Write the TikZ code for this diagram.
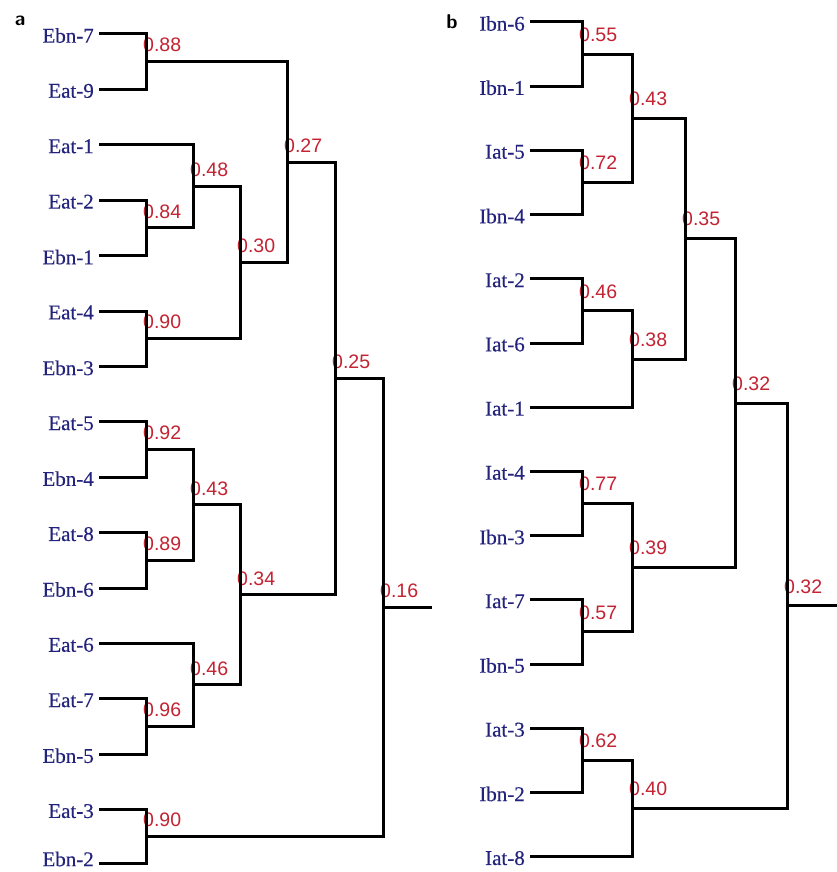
\documentclass[tikz,border=0pt]{standalone}
\usepackage{fontspec}
\setmainfont{Liberation Serif}
\newfontfamily\leaffont[FakeBold=0.3]{Liberation Serif}
\newfontfamily\valfont{Liberation Sans}
\definecolor{leafblue}{RGB}{35,35,125}
\definecolor{valred}{RGB}{195,35,50}
\begin{document}
\begin{tikzpicture}[x=1pt,y=-1pt,
  leaf/.style={anchor=east,inner sep=0pt,text=leafblue,font=\leaffont\fontsize{21}{21}\selectfont},
  val/.style={anchor=west,inner sep=0pt,text=valred,font=\valfont\fontsize{19.5}{20}\selectfont},
  br/.style={line width=3pt,line join=miter,draw=black},
  panel/.style={inner sep=0pt,font=\sffamily\bfseries\fontsize{20}{20}\selectfont}]
\useasboundingbox (0,0) rectangle (837,872);
\fill[white] (0,0) rectangle (837,872);
% panel letters
\node[panel] (pa) at (20,21) {a};
\node[panel] (pb) at (452,22) {b};
% ---------- panel a leaves ----------
\foreach \n/\t/\y in {0/Ebn-7/34,1/Eat-9/89.4,2/Eat-1/144.8,3/Eat-2/200.2,4/Ebn-1/255.6,5/Eat-4/311,6/Ebn-3/366.4,7/Eat-5/421.8,8/Ebn-4/477.2,9/Eat-8/532.6,10/Ebn-6/588,11/Eat-6/643.4,12/Eat-7/698.8,13/Ebn-5/754.2,14/Eat-3/809.6}{
  \node[leaf] (aT\n) at (94,\y+1.5) {\t};
  \coordinate (aL\n) at (99,\y);
}
\node[leaf] (aT15) at (94,859) {Ebn-2};
\coordinate (aL15) at (99,863);
% internal coordinates a
\coordinate (a88) at (146,61.7);
\coordinate (a84) at (146,227.9);
\coordinate (a48) at (193,186.35);
\coordinate (a90a) at (146,338.7);
\coordinate (a30) at (240,262.5);
\coordinate (a27) at (287,162.1);
\coordinate (a92) at (146,449.5);
\coordinate (a89) at (146,560.3);
\coordinate (a43) at (193,504.9);
\coordinate (a96) at (146,726.5);
\coordinate (a46) at (193,684.95);
\coordinate (a34) at (240,594.9);
\coordinate (a25) at (335,378.5);
\coordinate (a90b) at (146,836.3);
\coordinate (a16) at (383,607.4);
\coordinate (aR) at (432,607.4);
% labels a
\foreach \c/\v in {a88/0.88,a84/0.84,a48/0.48,a90a/0.90,a30/0.30,a27/0.27,a92/0.92,a89/0.89,a43/0.43,a96/0.96,a46/0.46,a34/0.34,a25/0.25,a90b/0.90,a16/0.16}{
  \node[val] (v\c) at ([xshift=-3pt,yshift=16.5pt]\c) {\v};
}
% branches a
\draw[br] (aL0) -| (a88) |- (aL1);
\draw[br] (aL3) -| (a84) |- (aL4);
\draw[br] (aL2) -| (a48) |- (a84);
\draw[br] (aL5) -| (a90a) |- (aL6);
\draw[br] (a48) -| (a30) |- (a90a);
\draw[br] (a88) -| (a27) |- (a30);
\draw[br] (aL7) -| (a92) |- (aL8);
\draw[br] (aL9) -| (a89) |- (aL10);
\draw[br] (a92) -| (a43) |- (a89);
\draw[br] (aL12) -| (a96) |- (aL13);
\draw[br] (aL11) -| (a46) |- (a96);
\draw[br] (a43) -| (a34) |- (a46);
\draw[br] (a27) -| (a25) |- (a34);
\draw[br] (aL14) -| (a90b) |- (aL15);
\draw[br] (a25) -| (a16) |- (a90b);
\draw[br] (a16) -- (aR);
% ---------- panel b leaves ----------
\foreach \n/\t/\y in {0/Ibn-6/22,1/Ibn-1/86.2,2/Iat-5/150.4,3/Ibn-4/214.6,4/Iat-2/278.8,5/Iat-6/343,6/Iat-1/407.2,7/Iat-4/471.4,8/Ibn-3/535.6,9/Iat-7/599.8,10/Ibn-5/664,11/Iat-3/728.2,12/Ibn-2/792.4,13/Iat-8/856.6}{
  \node[leaf] (bT\n) at (525,\y+1.5) {\t};
  \coordinate (bL\n) at (530,\y);
}
\coordinate (b55) at (582,54.1);
\coordinate (b72) at (582,182.5);
\coordinate (b43) at (632,118.3);
\coordinate (b46) at (582,310.9);
\coordinate (b38) at (632,359.05);
\coordinate (b35) at (685,238.7);
\coordinate (b77) at (582,503.5);
\coordinate (b57) at (582,631.9);
\coordinate (b39) at (632,567.7);
\coordinate (b32u) at (735,403.2);
\coordinate (b62) at (582,760.3);
\coordinate (b40) at (632,808.45);
\coordinate (b32r) at (787,605.8);
\coordinate (bR) at (837,605.8);
\foreach \c/\v in {b55/0.55,b72/0.72,b43/0.43,b46/0.46,b38/0.38,b35/0.35,b77/0.77,b57/0.57,b39/0.39,b32u/0.32,b62/0.62,b40/0.40,b32r/0.32}{
  \node[val] (v\c) at ([xshift=-3pt,yshift=19.5pt]\c) {\v};
}
\draw[br] (bL0) -| (b55) |- (bL1);
\draw[br] (bL2) -| (b72) |- (bL3);
\draw[br] (b55) -| (b43) |- (b72);
\draw[br] (bL4) -| (b46) |- (bL5);
\draw[br] (b46) -| (b38) |- (bL6);
\draw[br] (b43) -| (b35) |- (b38);
\draw[br] (bL7) -| (b77) |- (bL8);
\draw[br] (bL9) -| (b57) |- (bL10);
\draw[br] (b77) -| (b39) |- (b57);
\draw[br] (b35) -| (b32u) |- (b39);
\draw[br] (bL11) -| (b62) |- (bL12);
\draw[br] (b62) -| (b40) |- (bL13);
\draw[br] (b32u) -| (b32r) |- (b40);
\draw[br] (b32r) -- (bR);
\end{tikzpicture}
\end{document}
